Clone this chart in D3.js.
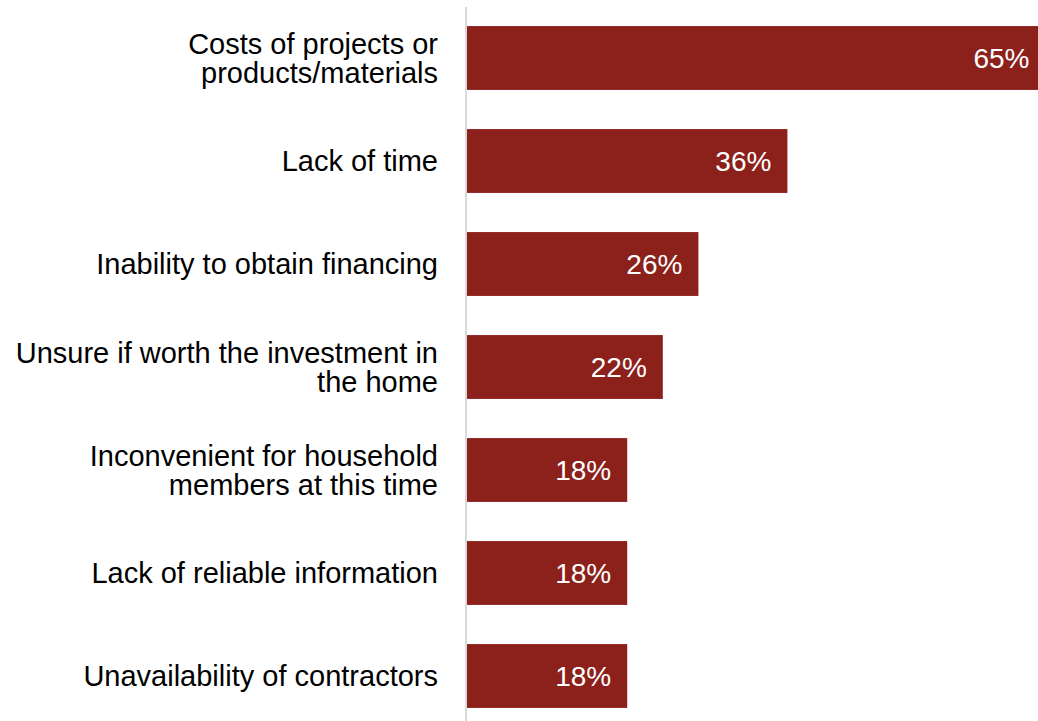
<!DOCTYPE html>
<html>
<head>
<meta charset="utf-8">
<script src="https://cdn.jsdelivr.net/npm/d3@7/dist/d3.min.js"></script>
<style>
  html, body { margin: 0; padding: 0; background: #fff; }
  svg { display: block; }
</style>
</head>
<body>
<svg id="chart" width="1038" height="721"></svg>
<script>
// Barriers to home improvement projects (share of respondents)
const categories = [
  ["Costs of projects or", "products/materials"],
  ["Lack of time"],
  ["Inability to obtain financing"],
  ["Unsure if worth the investment in", "the home"],
  ["Inconvenient for household", "members at this time"],
  ["Lack of reliable information"],
  ["Unavailability of contractors"]
];
const values = [65, 36, 26, 22, 18, 18, 18];
const valueLabels = ["65%", "36%", "26%", "22%", "18%", "18%", "18%"];

const width = 1038, height = 721;
const x0 = 467;
const svg = d3.select("#chart");

const x = d3.scaleLinear().domain([0, 10]).range([x0, x0 + 89]);
const y = d3.scaleBand()
  .domain(d3.range(values.length))
  .range([6.5, 727.5])
  .paddingInner(0.38)
  .paddingOuter(0.19);

const font = "'Liberation Sans', Arial, sans-serif";
const barColor = "#8C201B";

svg.append("g").selectAll("rect")
  .data(values)
  .join("rect")
  .attr("x", x(0))
  .attr("y", (d, i) => y(i))
  .attr("width", d => x(d) - x(0))
  .attr("height", y.bandwidth())
  .attr("fill", barColor);

// value labels inside bar ends
svg.append("g").selectAll("text")
  .data(values)
  .join("text")
  .attr("x", d => x(d) - 16)
  .attr("y", (d, i) => y(i) + y.bandwidth() / 2 + 10)
  .attr("text-anchor", "end")
  .attr("fill", "#fff")
  .attr("font-family", font)
  .attr("font-size", 28)
  .text((d, i) => valueLabels[i]);

// category axis line
svg.append("line")
  .attr("x1", x0 - 1).attr("x2", x0 - 1)
  .attr("y1", 7).attr("y2", height)
  .attr("stroke", "#d9d9d9")
  .attr("stroke-width", 2);

// category labels (right-aligned, wrapped lines)
const lineH = 29;
const labels = svg.append("g").selectAll("text")
  .data(categories)
  .join("text")
  .attr("text-anchor", "end")
  .attr("font-family", font)
  .attr("font-size", 29)
  .attr("fill", "#000")
  .attr("transform", (d, i) => {
    const c = y(i) + y.bandwidth() / 2;
    const base = c + 10 - (d.length - 1) * lineH / 2;
    return `translate(438,${base})`;
  });
labels.selectAll("tspan")
  .data(d => d)
  .join("tspan")
  .attr("x", 0)
  .attr("dy", (d, j) => j === 0 ? 0 : lineH)
  .text(d => d);
</script>
</body>
</html>
